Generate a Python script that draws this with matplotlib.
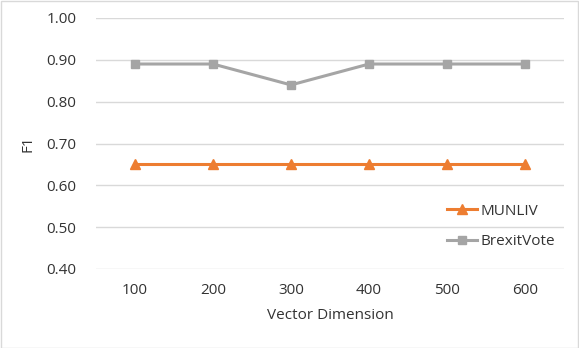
import matplotlib.pyplot as plt
from matplotlib.patches import Rectangle

dimensions = ["100", "200", "300", "400", "500", "600"]
munliv = [0.65, 0.65, 0.65, 0.65, 0.65, 0.65]
brexit_vote = [0.89, 0.89, 0.84, 0.89, 0.89, 0.89]

plt.rcParams['font.family'] = ['Open Sans', 'DejaVu Sans']
text_color = '#333333'
fs = 11

fig = plt.figure(figsize=(5.79, 3.48), dpi=100)
ax = fig.add_axes([96 / 579, 1 - 269 / 348, (564 - 96) / 579, (269 - 18) / 348])

x = range(len(dimensions))
ax.plot(x, munliv, color='#ED7D31', linewidth=2.2, marker='^', markersize=6.5, label='MUNLIV')
ax.plot(x, brexit_vote, color='#A5A5A5', linewidth=2.2, marker='s', markersize=6, label='BrexitVote')

ax.set_xlim(-0.5, len(dimensions) - 0.5)
ax.set_ylim(0.40, 1.00)
ax.set_yticks([0.40, 0.50, 0.60, 0.70, 0.80, 0.90, 1.00])
ax.set_yticklabels([f"{v:.2f}" for v in ax.get_yticks()])
ax.set_xticks(list(x))
ax.set_xticklabels(dimensions)
ax.grid(axis='y', color='#D9D9D9', linewidth=1)
ax.set_axisbelow(True)
for s in ax.spines.values():
    s.set_visible(False)
ax.tick_params(length=0, labelsize=fs, colors=text_color, pad=10)
ax.tick_params(axis='y', pad=14)

ax.set_xlabel('Vector Dimension', fontsize=fs, color=text_color, labelpad=7)
ax.set_ylabel('F1', fontsize=fs, color=text_color, labelpad=8)

ax.legend(loc='lower right', bbox_to_anchor=(1.01, 0.025), frameon=False, fontsize=fs,
          handlelength=2.0, labelspacing=1.0, handletextpad=0.2, labelcolor=text_color)

fig.patches.append(Rectangle((0.5 / 579, 0.5 / 348), 1 - 1.5 / 579, 1 - 1.5 / 348,
                             transform=fig.transFigure, fill=False, edgecolor='#D9D9D9', linewidth=1))

fig.savefig('out.png', dpi=100)
